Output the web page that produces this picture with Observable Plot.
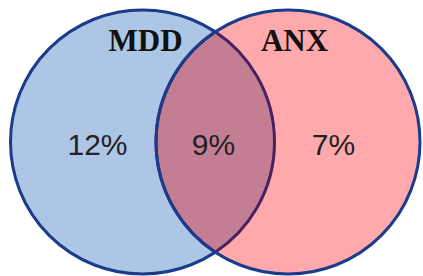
<!DOCTYPE html>
<html>
<head>
<meta charset="utf-8">
<script src="https://cdn.jsdelivr.net/npm/d3@7"></script>
<script src="https://cdn.jsdelivr.net/npm/@observablehq/plot@0.6"></script>
<style>
  html, body { margin: 0; padding: 0; background: #fff; }
</style>
</head>
<body>
<div id="chart"></div>
<script>
// Data
const sets = ["MDD", "ANX"];
const regions = ["MDD only", "MDD & ANX", "ANX only"];
const shares = [12, 9, 7];

// Layout (coordinates in a 423x276 frame, mapped 1:1 by the scales)
const circleX = [142, 287.5];
const circleY = [141.5, 141.5];
const radius = 132;
const labelX = [145, 294];
const labelY = 50;
const shareX = [97, 213, 333];
const shareY = 154;

const circles = sets.map((s, i) => ({set: s, x: circleX[i], y: circleY[i]}));
const overlap = [{x: (circleX[0] + circleX[1]) / 2, y: circleY[0]}];
const setLabels = sets.map((s, i) => ({set: s, x: labelX[i], y: labelY}));
const shareLabels = regions.map((r, i) => ({region: r, value: shares[i], x: shareX[i], y: shareY}));

// Custom symbol: the lens where two equal circles meet (half-distance dHalf)
const dHalf = (circleX[1] - circleX[0]) / 2;
const lens = {
  draw(context, size) {
    const r = Math.sqrt(size / Math.PI);
    const a = Math.acos(dHalf / r);
    context.arc(dHalf, 0, r, Math.PI - a, Math.PI + a, false);
    context.arc(-dHalf, 0, r, -a, a, false);
    context.closePath();
  }
};

const navy = "#1b3c8b";

const chart = Plot.plot({
  width: 423,
  height: 276,
  margin: 0,
  x: {domain: [0, 423], range: [0, 423], axis: null},
  y: {domain: [0, 276], range: [0, 276], axis: null},
  style: {background: "#fff"},
  marks: [
    Plot.dot(circles.slice(0, 1), {x: "x", y: "y", r: radius, fill: "#adc6e6", stroke: navy, strokeWidth: 3}),
    Plot.dot(circles.slice(1, 2), {x: "x", y: "y", r: radius, fill: "#ffa9ad", stroke: "none"}),
    Plot.dot(overlap, {x: "x", y: "y", r: radius, symbol: lens, fill: "#c47e94", stroke: "#4a2160", strokeWidth: 3}),
    Plot.dot(circles.slice(1, 2), {x: "x", y: "y", r: radius, fill: "none", stroke: navy, strokeWidth: 3}),
    Plot.text(setLabels, {x: "x", y: "y", text: "set", fontFamily: "Liberation Serif", fontWeight: "bold", fontSize: 31, fill: "#111", lineAnchor: "bottom"}),
    Plot.text(shareLabels, {x: "x", y: "y", text: d => `${d.value}%`, fontFamily: "Liberation Sans", fontSize: 30, fill: "#222", lineAnchor: "bottom"})
  ]
});
document.getElementById("chart").append(chart);
</script>
</body>
</html>
